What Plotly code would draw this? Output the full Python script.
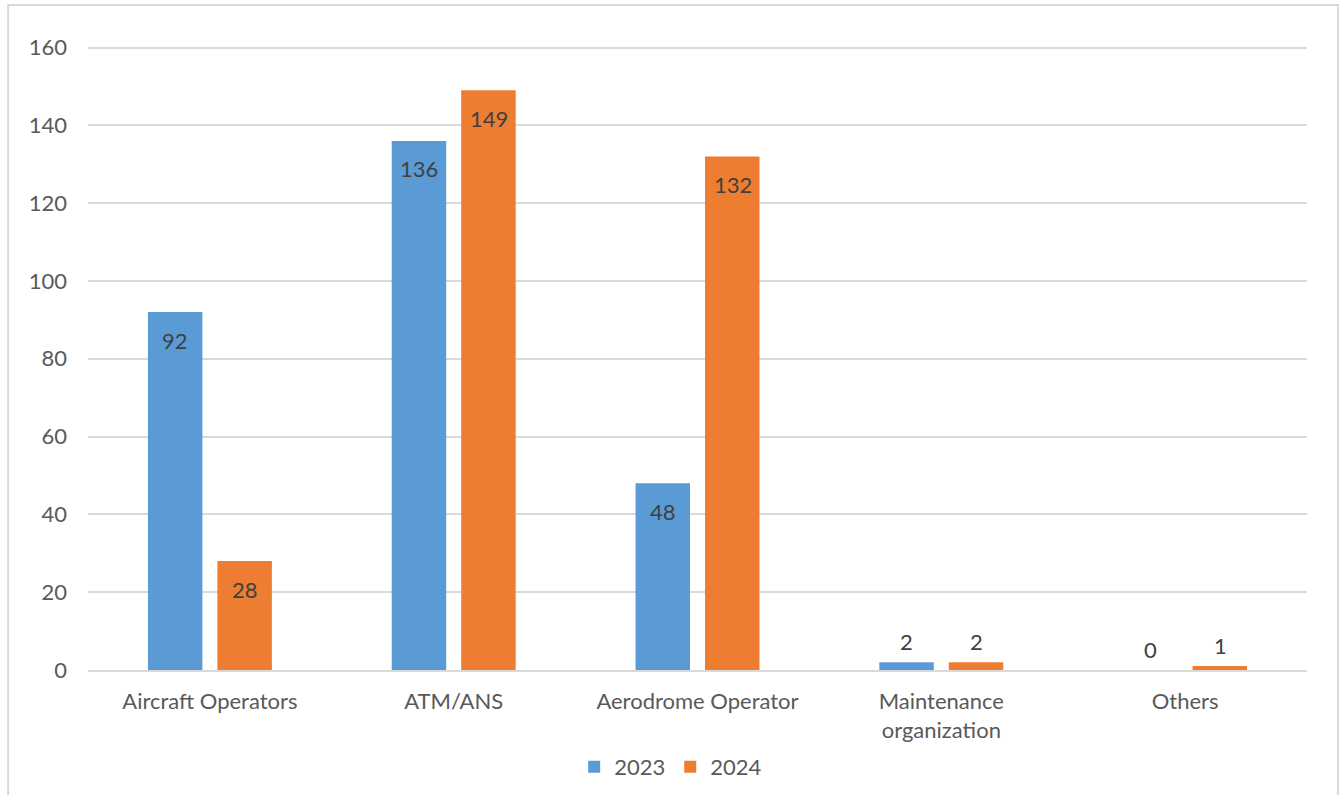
import plotly.graph_objects as go

# Reported occurrences by organisation type
categories = ["Aircraft Operators", "ATM/ANS", "Aerodrome Operator",
              "Maintenance<br>organization", "Others"]
values_2023 = [92, 136, 48, 2, 0]
values_2024 = [28, 149, 132, 2, 1]
series_names = ["2023", "2024"]
y_ticks = [0, 20, 40, 60, 80, 100, 120, 140, 160]

BLUE = "#5B9BD5"
ORANGE = "#ED7D31"
TEXT = "#595959"
LABEL = "#404040"
GRID = "#D9D9D9"
FONT = "Lato, Open Sans, sans-serif"

fig = go.Figure()
for name, vals, color in [(series_names[0], values_2023, BLUE),
                          (series_names[1], values_2024, ORANGE)]:
    fig.add_trace(go.Bar(
        x=categories, y=vals, name=name,
        marker=dict(color=color, line=dict(width=0)),
        hoverinfo="x+y+name",
    ))

# Value labels: inside the top of tall bars, above short ones
offsets = {0: -35, 1: 35}
for i, vals in enumerate([values_2023, values_2024]):
    for cat, v in zip(categories, vals):
        inside = v > 10
        fig.add_annotation(
            x=cat, y=v, xref="x", yref="y",
            text=str(v), showarrow=False,
            xshift=offsets[i], yshift=-28 if inside else 21,
            yanchor="middle", xanchor="center",
            font=dict(family=FONT, size=22, color=LABEL),
        )

# Chart-area border
fig.add_shape(type="rect", xref="paper", yref="paper",
              x0=-0.0655, x1=1.0254, y0=-0.3, y1=1.0659,
              line=dict(color=GRID, width=2), fillcolor="rgba(0,0,0,0)",
              layer="below")

fig.update_layout(
    width=1343, height=795,
    margin=dict(l=88, r=36, t=46, b=125, autoexpand=False),
    paper_bgcolor="white", plot_bgcolor="white",
    barmode="group", bargap=0.43, bargroupgap=0.216,
    font=dict(family=FONT, size=22, color=TEXT),
    showlegend=True,
    legend=dict(orientation="h", x=0.478, xanchor="center",
                yref="container", y=28 / 795, yanchor="middle",
                font=dict(family=FONT, size=22, color=TEXT),
                itemwidth=30, traceorder="normal"),
    xaxis=dict(showgrid=False, showline=True, linecolor=GRID, linewidth=2,
               ticks="", tickfont=dict(family=FONT, size=22, color=TEXT),
               ticklabelstandoff=11, automargin=False),
    yaxis=dict(range=[0, 160.4], tickvals=y_ticks, showgrid=True,
               gridcolor=GRID, gridwidth=1.5, zeroline=False, showline=False,
               ticks="", tickfont=dict(family=FONT, size=22, color=TEXT),
               ticklabelstandoff=20, automargin=False),
)

fig.write_html("out.html")
